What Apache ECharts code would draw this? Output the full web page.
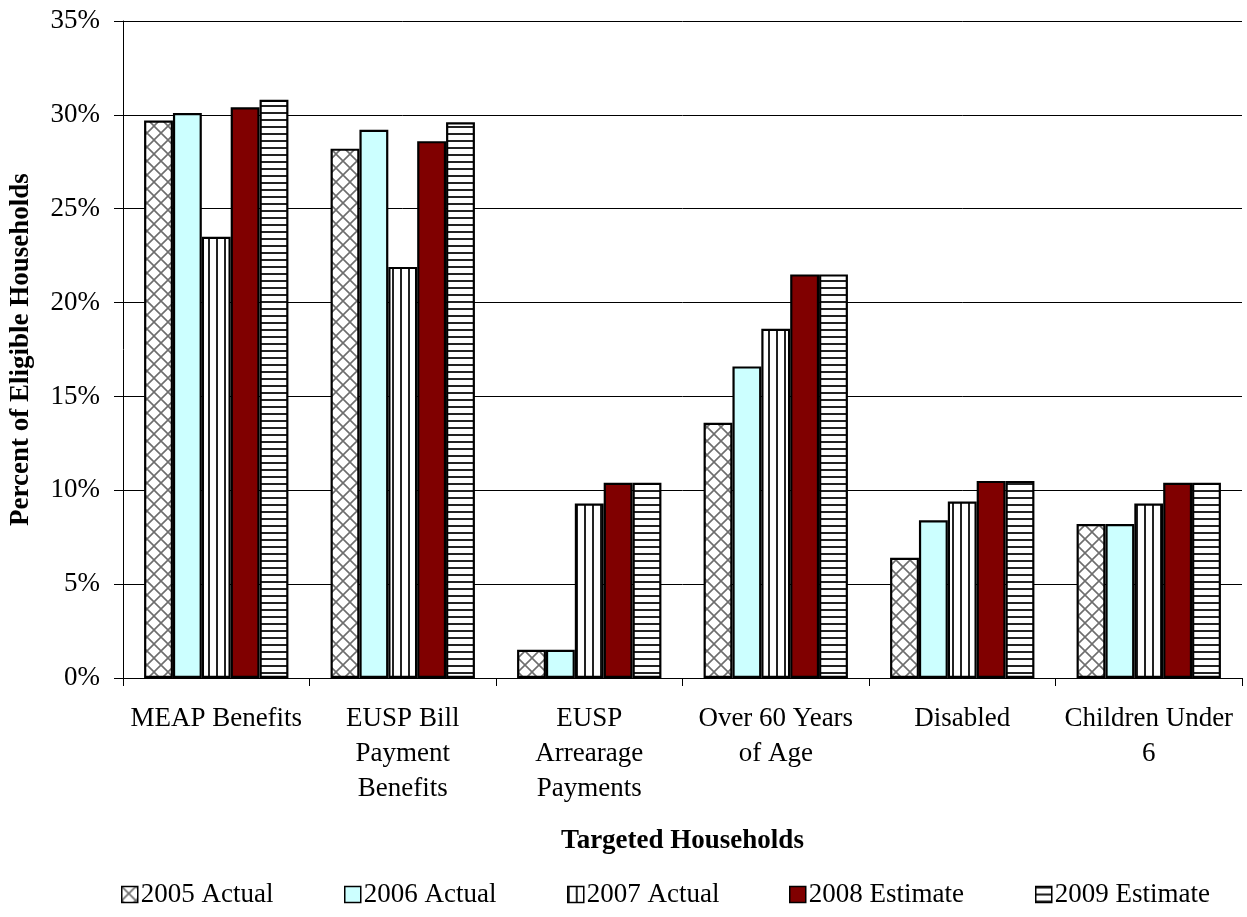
<!DOCTYPE html>
<html>
<head>
<meta charset="utf-8">
<script src="https://cdn.jsdelivr.net/npm/echarts@6/dist/echarts.min.js"></script>
<style>
  html, body { margin: 0; padding: 0; background: #fff; }
  #chart { width: 1247px; height: 917px; }
</style>
</head>
<body>
<div id="chart"></div>
<script>
// Targeted household groups (x axis)
const categories = [
  'MEAP Benefits',
  'EUSP Bill\nPayment\nBenefits',
  'EUSP\nArrearage\nPayments',
  'Over 60 Years\nof Age',
  'Disabled',
  'Children Under\n6'
];

// Series names
const seriesNames = ['2005 Actual', '2006 Actual', '2007 Actual', '2008 Estimate', '2009 Estimate'];

// Percent of eligible households, one array per year
const values2005 = [29.7, 28.2, 1.5, 13.6, 6.4, 8.2];
const values2006 = [30.1, 29.2, 1.5, 16.6, 8.4, 8.2];
const values2007 = [23.5, 21.9, 9.3, 18.6, 9.4, 9.3];
const values2008 = [30.4, 28.6, 10.4, 21.5, 10.5, 10.4];
const values2009 = [30.8, 29.6, 10.4, 21.5, 10.5, 10.4];

// Y axis ticks
const yMin = 0, yMax = 35, yStep = 5;

const FONT = '"Liberation Serif", "Times New Roman", serif';

// Fill patterns drawn on small tiles
function tile(w, h, draw) {
  const c = document.createElement('canvas');
  c.width = w; c.height = h;
  const g = c.getContext('2d');
  g.fillStyle = '#ffffff';
  g.fillRect(0, 0, w, h);
  draw(g, w, h);
  return { image: c, repeat: 'repeat' };
}
const crossHatch = tile(14, 14, (g, w, h) => {
  g.strokeStyle = '#6e6e6e';
  g.lineWidth = 1.6;
  g.beginPath();
  g.moveTo(0, 0); g.lineTo(w, h);
  g.moveTo(w, 0); g.lineTo(0, h);
  g.stroke();
});
const verticalLines = tile(8, 8, (g, w, h) => {
  g.fillStyle = '#222222';
  g.fillRect(0, 0, 2, h);
});
const horizontalLines = tile(8, 7, (g, w, h) => {
  g.fillStyle = '#222222';
  g.fillRect(0, 0, w, 2);
});

const fills = [crossHatch, '#CCFFFF', verticalLines, '#800000', horizontalLines];
const dataSets = [values2005, values2006, values2007, values2008, values2009];

const series = seriesNames.map((name, i) => ({
  name: name,
  type: 'bar',
  data: dataSets[i],
  barGap: '0%',
  barCategoryGap: '22.6%',
  itemStyle: { color: fills[i], borderColor: '#000', borderWidth: 2.2 }
}));

// Legend entries placed individually along the bottom row
const legendLeft = [116, 339, 562, 784, 1030];
const legends = seriesNames.map((name, i) => ({
  data: [name],
  left: legendLeft[i],
  top: 876,
  itemWidth: 16,
  itemHeight: 16,
  itemGap: 3,
  icon: 'rect',
  textStyle: { fontFamily: FONT, fontSize: 27, color: '#000', padding: [0, 0, 0, -2] },
  itemStyle: { borderColor: '#000', borderWidth: 1.5 },
  selectedMode: false
}));

const chart = echarts.init(document.getElementById('chart'), null, { renderer: 'canvas' });
chart.setOption({
  animation: false,
  backgroundColor: '#fff',
  legend: legends,
  grid: { left: 123, right: 5, top: 21, bottom: 239, containLabel: false },
  xAxis: {
    type: 'category',
    data: categories,
    name: 'Targeted Households',
    nameLocation: 'middle',
    nameGap: 150,
    nameTextStyle: { fontFamily: FONT, fontSize: 27, fontWeight: 'bold', color: '#000' },
    axisLine: { lineStyle: { color: '#000', width: 1 } },
    axisTick: { show: true, length: 8, alignWithLabel: false, lineStyle: { color: '#000' } },
    axisLabel: {
      interval: 0,
      margin: 23,
      fontFamily: FONT,
      fontSize: 27,
      lineHeight: 35,
      color: '#000'
    }
  },
  yAxis: {
    type: 'value',
    min: yMin,
    max: yMax,
    interval: yStep,
    name: 'Percent of Eligible Households',
    nameLocation: 'middle',
    nameGap: 88,
    nameTextStyle: { fontFamily: FONT, fontSize: 27, fontWeight: 'bold', color: '#000' },
    axisLine: { show: true, lineStyle: { color: '#000', width: 1 } },
    axisTick: { show: true, length: 9, lineStyle: { color: '#000' } },
    splitLine: { show: true, lineStyle: { color: '#000', width: 1 } },
    axisLabel: {
      formatter: '{value}%',
      margin: 23,
      fontFamily: FONT,
      fontSize: 27,
      color: '#000'
    }
  },
  series: series
});
</script>
</body>
</html>
